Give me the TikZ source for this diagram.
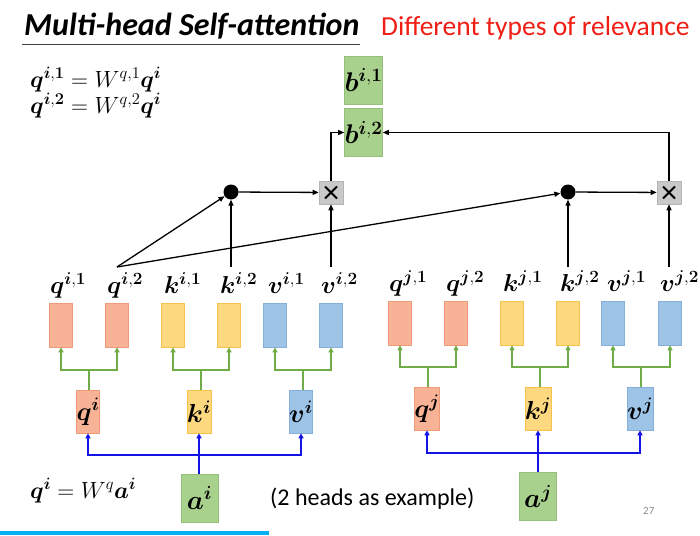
\RequirePackage{fix-cm}
\documentclass[tikz,border=0pt]{standalone}
\usepackage{amsmath,bm}
\usepackage{fontspec}
\setmainfont{Carlito}
\usetikzlibrary{arrows.meta,calc}
\definecolor{orfill}{HTML}{F8B296}
\definecolor{ordraw}{HTML}{EE9B78}
\definecolor{yefill}{HTML}{FFD980}
\definecolor{yedraw}{HTML}{F6C24A}
\definecolor{blfill}{HTML}{9DC3E6}
\definecolor{bldraw}{HTML}{86AEDB}
\definecolor{grfill}{HTML}{A9D18E}
\definecolor{grdraw}{HTML}{94C07A}
\definecolor{gyfill}{HTML}{C9C9C9}
\definecolor{gydraw}{HTML}{B5B5B5}
\definecolor{gline}{HTML}{70AD47}
\definecolor{bline}{HTML}{1414E6}
\definecolor{redtxt}{RGB}{240,30,20}
\definecolor{cyanbar}{HTML}{00B0F0}
\tikzset{
  smallbox/.style={draw, line width=0.6pt, minimum width=23pt, minimum height=44pt, inner sep=0pt},
  midbox/.style={draw, line width=0.6pt, minimum width=23pt, minimum height=43pt, inner sep=0pt, font=\fontsize{26}{28}\selectfont},
  abox/.style={draw=grdraw, fill=grfill, line width=0.6pt, minimum width=37pt, minimum height=48pt, inner sep=0pt, font=\fontsize{27}{30}\selectfont},
  bbox/.style={draw=grdraw, fill=grfill, line width=0.6pt, minimum width=37pt, minimum height=48pt, inner sep=0pt, font=\fontsize{27}{30}\selectfont},
  orb/.style={fill=orfill, draw=ordraw},
  yeb/.style={fill=yefill, draw=yedraw},
  blb/.style={fill=blfill, draw=bldraw},
  lab/.style={anchor=base west, inner sep=0pt, font=\fontsize{24.5}{28}\selectfont},
  dotn/.style={circle, fill=black, minimum size=15pt, inner sep=0pt},
  xbox/.style={fill=gyfill, draw=gydraw, line width=0.6pt, minimum width=24pt, minimum height=23pt, inner sep=0pt},
  karr/.style={line width=1.3pt, -{Triangle[length=6pt,width=5pt]}},
  garr/.style={gline, line width=1.6pt, -{Triangle[length=5pt,width=5pt]}},
  gln/.style={gline, line width=1.6pt},
  barr/.style={bline, line width=1.8pt, -{Triangle[length=5pt,width=5pt]}},
  bln/.style={bline, line width=1.8pt},
  eq/.style={anchor=base west, inner sep=0pt, font=\fontsize{23.5}{28}\selectfont},
}
\newcommand{\xmark}[1]{\draw[line width=1.8pt] ([shift={(-6,-6)}]#1.center) -- ([shift={(6,6)}]#1.center); \draw[line width=1.8pt] ([shift={(-6,6)}]#1.center) -- ([shift={(6,-6)}]#1.center);}
\begin{document}
\begin{tikzpicture}[x=1pt,y=-1pt]
\useasboundingbox[fill=white] (0,0) rectangle (700,535);
% title
\node[anchor=base west, inner sep=0pt, font=\fontsize{32}{38}\selectfont\bfseries\itshape] (title) at (24,36) {Multi-head Self-attention};
\draw[black!75, line width=0.8pt] ([shift={(-2,8)}]title.base west) -- ([shift={(0,8)}]title.base east);
\node[anchor=base west, inner sep=0pt, text=redtxt, font=\fontsize{27.5}{32}\selectfont] (sub) at (381,36) {Different types of relevance};
% equations
\node[eq] (eq1) at (30,87) {$\bm{q}^{\bm{i},\bm{1}} = W^{q,1}\bm{q}^{\bm{i}}$};
\node[eq] (eq2) at (30,113) {$\bm{q}^{\bm{i},\bm{2}} = W^{q,2}\bm{q}^{\bm{i}}$};
\node[eq] (eq3) at (30,498) {$\bm{q}^{\bm{i}} = W^{q}\bm{a}^{\bm{i}}$};
\node[anchor=base west, inner sep=0pt, font=\fontsize{24}{28}\selectfont] (note) at (270,505) {(2 heads as example)};
\node[anchor=base west, inner sep=0pt, text=black!45, font=\fontsize{11}{12}\selectfont] (pg) at (643,514) {27};
\fill[cyanbar] (0,531) rectangle (269,535);
% b boxes
\node[bbox] (b1) at (363.5,80) {$\bm{b}^{\bm{i},\bm{1}}$};
\node[bbox] (b2) at (363.5,132.5) {$\bm{b}^{\bm{i},\bm{2}}$};
% dots and x boxes
\node[dotn] (d1) at (231,192) {};
\node[xbox] (x1) at (331,192.5) {};
\xmark{x1}
\node[dotn] (d2) at (568,192) {};
\node[xbox] (x2) at (669,192.5) {};
\xmark{x2}
% small boxes left
\node[smallbox,orb] (sq1) at (61,325) {};
\node[smallbox,orb] (sq2) at (117,325) {};
\node[smallbox,yeb] (sk1) at (173,325) {};
\node[smallbox,yeb] (sk2) at (229,325) {};
\node[smallbox,blb] (sv1) at (275,325) {};
\node[smallbox,blb] (sv2) at (331,325) {};
% small boxes right
\node[smallbox,orb] (tq1) at (400,323) {};
\node[smallbox,orb] (tq2) at (456,323) {};
\node[smallbox,yeb] (tk1) at (512,323) {};
\node[smallbox,yeb] (tk2) at (568,323) {};
\node[smallbox,blb] (tv1) at (613,323) {};
\node[smallbox,blb] (tv2) at (670,323) {};
% labels
\node[lab] (lq1) at (50,293) {$\bm{q}^{\bm{i},\bm{1}}$};
\node[lab] (lq2) at (107,293) {$\bm{q}^{\bm{i},\bm{2}}$};
\node[lab] (lk1) at (164,293) {$\bm{k}^{\bm{i},\bm{1}}$};
\node[lab] (lk2) at (220,293) {$\bm{k}^{\bm{i},\bm{2}}$};
\node[lab] (lv1) at (268,293) {$\bm{v}^{\bm{i},\bm{1}}$};
\node[lab] (lv2) at (321,293) {$\bm{v}^{\bm{i},\bm{2}}$};
\node[lab] (mq1) at (389,291) {$\bm{q}^{\bm{j},\bm{1}}$};
\node[lab] (mq2) at (446,291) {$\bm{q}^{\bm{j},\bm{2}}$};
\node[lab] (mk1) at (503,291) {$\bm{k}^{\bm{j},\bm{1}}$};
\node[lab] (mk2) at (560,291) {$\bm{k}^{\bm{j},\bm{2}}$};
\node[lab] (mv1) at (607,291) {$\bm{v}^{\bm{j},\bm{1}}$};
\node[lab] (mv2) at (660,291) {$\bm{v}^{\bm{j},\bm{2}}$};
% start points of black connectors
\coordinate (cq2) at (117,267);
\coordinate (ck2) at (231,267);
\coordinate (cv2) at (331,267);
\coordinate (ckj2) at (568,267);
\coordinate (cvj2) at (669,267);
% black connectors
\draw[karr] (cq2) -- (d1);
\draw[karr] (cq2) -- (d2);
\draw[karr] (ck2) -- (d1);
\draw[karr] (cv2) -- (x1);
\draw[karr] (ckj2) -- (d2);
\draw[karr] (cvj2) -- (x2);
\draw[karr] (d1) -- (x1);
\draw[karr] (d2) -- (x2);
\draw[karr] (x1) |- (b2.west);
\draw[karr] (x2) |- (b2.east);
% middle boxes
\node[midbox,orb] (qi) at (88,411.5) {$\bm{q}^{\bm{i}}$};
\node[midbox,yeb] (ki) at (199,411.5) {$\bm{k}^{\bm{i}}$};
\node[midbox,blb] (vi) at (301,411.5) {$\bm{v}^{\bm{i}}$};
\node[midbox,orb] (qj) at (427,408.5) {$\bm{q}^{\bm{j}}$};
\node[midbox,yeb] (kj) at (538,408.5) {$\bm{k}^{\bm{j}}$};
\node[midbox,blb] (vj) at (640,408.5) {$\bm{v}^{\bm{j}}$};
% a boxes
\node[abox] (ai) at (199.5,498) {$\bm{a}^{\bm{i}}$};
\node[abox] (aj) at (538,496.5) {$\bm{a}^{\bm{j}}$};
% green splits
\coordinate (gqi) at (89,370);
\coordinate (gki) at (201,370);
\coordinate (gvi) at (303,370);
\coordinate (gqj) at (428,367);
\coordinate (gkj) at (540,367);
\coordinate (gvj) at (641,367);
\foreach \m/\g/\l/\r in {qi/gqi/sq1/sq2, ki/gki/sk1/sk2, vi/gvi/sv1/sv2, qj/gqj/tq1/tq2, kj/gkj/tk1/tk2, vj/gvj/tv1/tv2}{
  \draw[gln] (\m.north -| \g) -- (\g);
  \draw[garr] (\g) -| (\l.south);
  \draw[garr] (\g) -| (\r.south);
}
% blue splits
\coordinate (bi) at (199,455);
\coordinate (bj) at (538,453);
\draw[bln] (ai.north -| bi) -- (bi);
\draw[barr] (bi) -- (bi |- ki.south);
\draw[barr] (bi) -| (qi.south);
\draw[barr] (bi) -| (vi.south);
\draw[bln] (aj.north) -- (bj);
\draw[barr] (bj) -- (bj |- kj.south);
\draw[barr] (bj) -| (qj.south);
\draw[barr] (bj) -| (vj.south);
\end{tikzpicture}
\end{document}
